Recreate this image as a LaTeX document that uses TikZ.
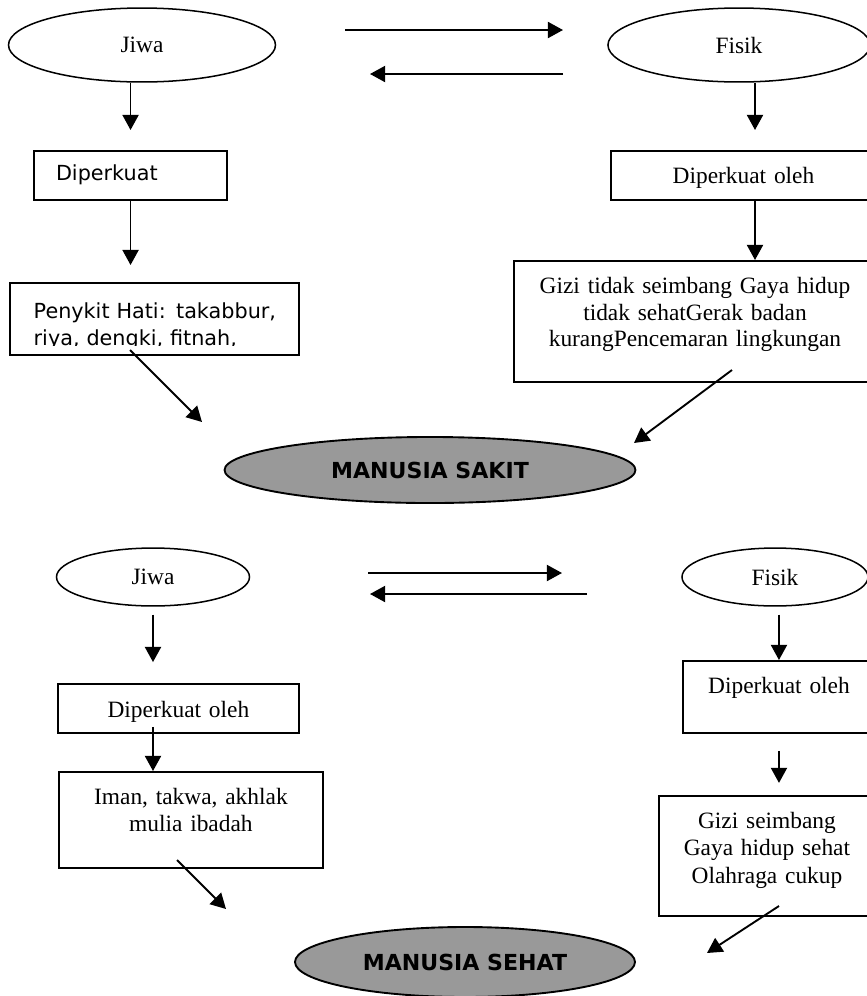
\documentclass[tikz,border=0pt]{standalone}
\usepackage{fontspec}
\setmainfont{Liberation Serif}
\newfontfamily\tahoma{DejaVu Sans}
\usepackage{tikz}
\usetikzlibrary{shapes.geometric, arrows.meta}
\definecolor{manusiagray}{RGB}{153,153,153}

\begin{document}
\begin{tikzpicture}[
    x=0.53pt, y=-0.53pt,
    every node/.style={font=\fontsize{12.4pt}{14pt}\selectfont},
    tahomatext/.style={font=\tahoma\fontsize{11pt}{14.6pt}\selectfont},
    soul/.style={ellipse, draw, line width=0.8pt, inner sep=0pt},
    result/.style={ellipse, draw, line width=1pt, fill=manusiagray, inner sep=0pt, font=\tahoma\bfseries\fontsize{11.7pt}{13pt}\selectfont},
    box/.style={rectangle, draw, line width=1pt, inner sep=0pt, align=center, anchor=north west},
    arrow/.style={-{Triangle[length=8pt, width=8.5pt]}, line width=1pt}
]
\clip (0,0) rectangle (867,996);

% Manusia sakit
\node[soul, minimum width=141.5pt, minimum height=39.2pt] (jiwa1) at (142,45) {Jiwa};
\node[soul, minimum width=138.9pt, minimum height=39.2pt] (fisik1) at (739,45) {Fisik};
\node[box, tahomatext, align=left, inner xsep=11.7pt, text width=79pt, text height=15.4pt, text depth=10.6pt] (dip1) at (33,150) {Diperkuat};
\node[box, text width=140.5pt, text height=17.5pt, text depth=8.5pt] (oleh1) at (610,150) {Diperkuat oleh};
\node[box, minimum width=153.2pt, minimum height=38.2pt,
      path picture={
        \clip (path picture bounding box.north west) rectangle ([yshift=4.8pt]path picture bounding box.south east);
        \node[tahomatext, anchor=base west, align=left, text width=150pt, inner sep=0pt] (pentext) at ([xshift=10.5pt, yshift=-18.6pt]path picture bounding box.north west) {Penykit Hati: takabbur,\\riya, dengki, fitnah,};
      }] (pen1) at (9,282) {};
\node[box, text width=191.9pt, text height=17.5pt, text depth=46.6pt, font=\fontsize{12.4pt}{14pt}\selectfont] (gizi1) at (513,260) {Gizi tidak seimbang Gaya hidup\\tidak sehatGerak badan\\kurangPencemaran lingkungan};
\node[result, minimum width=217.8pt, minimum height=35pt] (sakit) at (430,470) {MANUSIA SAKIT};

% Free ends
\coordinate (jf1a) at (345,30);
\coordinate (jf1b) at (563,30);
\coordinate (fj1a) at (563,74);
\coordinate (fj1b) at (370,74);
\coordinate (colR1) at (755,0);
\coordinate (pen1out) at (130,350);
\coordinate (sakitL) at (202,422);
\coordinate (gizi1out) at (732,370);
\coordinate (sakitR) at (634,443);

\draw[arrow] (jf1a) -- (jf1b);
\draw[arrow] (fj1a) -- (fj1b);
\draw[arrow, shorten >=10.6pt] (jiwa1.south -| dip1.north) -- (dip1.north);
\draw[arrow, shorten >=10.6pt] (fisik1.south -| colR1) -- (oleh1.north -| colR1);
\draw[arrow, shorten >=9pt] (dip1.south) -- (pen1.north -| dip1.south);
\draw[arrow] (oleh1.south -| colR1) -- (gizi1.north -| colR1);
\draw[arrow] (pen1out) -- (sakitL);
\draw[arrow] (gizi1out) -- (sakitR);

% Manusia sehat
\node[soul, minimum width=102.3pt, minimum height=30.7pt] (jiwa2) at (153,577) {Jiwa};
\node[soul, minimum width=98.6pt, minimum height=30.7pt] (fisik2) at (775,577) {Fisik};
\node[box, text width=127.7pt, text height=18pt, text depth=8pt] (oleh2) at (57,683) {Diperkuat oleh};
\node[box, text width=139.9pt, text height=17pt, text depth=33.9pt, font=\fontsize{12.4pt}{14.8pt}\selectfont] (iman2) at (58,771) {Iman, takwa, akhlak\\mulia ibadah};
\node[box, text width=101.8pt, text height=17pt, text depth=21.2pt] (oleh3) at (682,660) {Diperkuat oleh};
\node[box, text width=114.5pt, text height=17pt, text depth=46.6pt, font=\fontsize{12.4pt}{14.6pt}\selectfont] (gizi2) at (658,795) {Gizi seimbang\\Gaya hidup sehat\\Olahraga cukup};
\node[result, minimum width=180.2pt, minimum height=37.1pt] (sehat) at (465,962) {MANUSIA SEHAT};

% Free ends
\coordinate (jf2a) at (368,573);
\coordinate (jf2b) at (562,573);
\coordinate (fj2a) at (587,594);
\coordinate (fj2b) at (370,594);
\coordinate (iman2out) at (177,860);
\coordinate (sehatL) at (226,909);
\coordinate (gizi2out) at (779,906);
\coordinate (sehatR) at (707,953);

\draw[arrow] (jf2a) -- (jf2b);
\draw[arrow] (fj2a) -- (fj2b);
\draw[arrow, shorten <=4.2pt, shorten >=11.1pt] (jiwa2.south) -- (jiwa2.south |- oleh2.north);
\draw[arrow, shorten <=-3.7pt] (jiwa2.south |- oleh2.south) -- (jiwa2.south |- iman2.north);
\draw[arrow, shorten <=4.2pt] (fisik2.south -| oleh3.north) -- (oleh3.north);
\draw[arrow, shorten <=9pt, shorten >=6.4pt] (oleh3.south) -- (oleh3.south |- gizi2.north);
\draw[arrow] (iman2out) -- (sehatL);
\draw[arrow] (gizi2out) -- (sehatR);

\end{tikzpicture}
\end{document}
